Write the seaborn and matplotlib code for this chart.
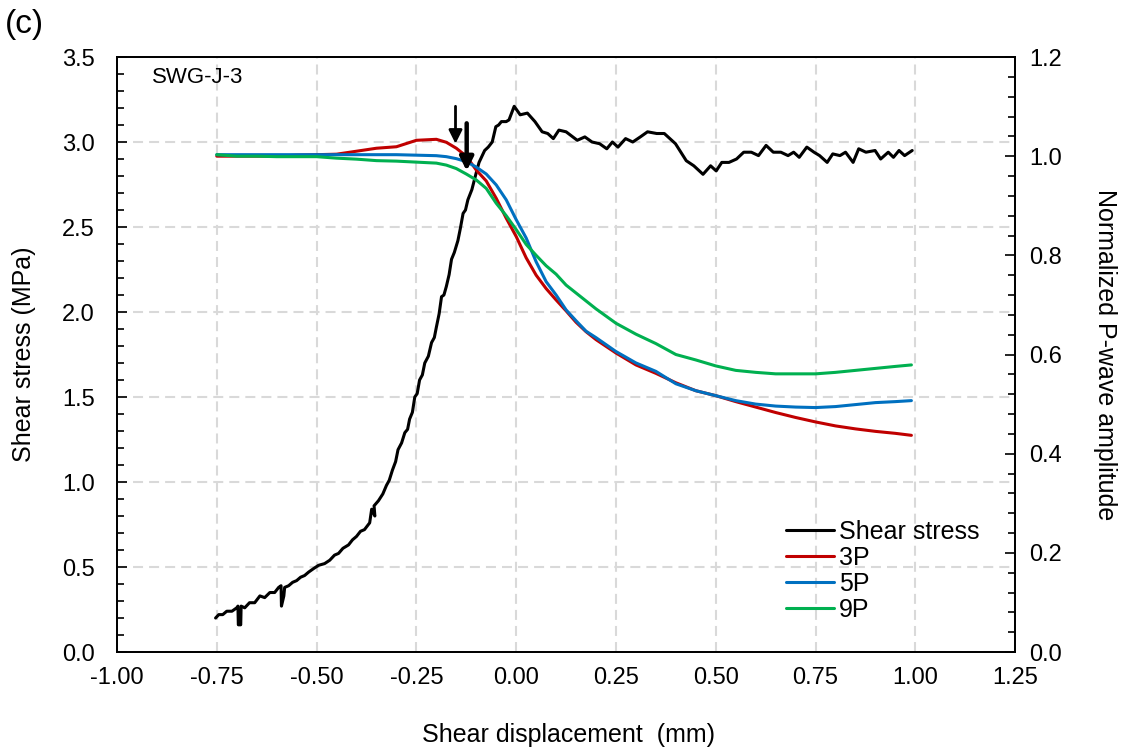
import matplotlib.pyplot as plt
import matplotlib.ticker as mticker
import seaborn as sns

# shear stress curve (left axis)
shear_disp = [
    -0.753, -0.745, -0.735, -0.725, -0.712, -0.700, -0.697, -0.696, -0.690, -0.689,
    -0.680, -0.668, -0.655, -0.642, -0.630, -0.617, -0.605, -0.595, -0.589, -0.588,
    -0.586, -0.582, -0.580, -0.570, -0.560, -0.550, -0.540, -0.530, -0.520, -0.508,
    -0.495, -0.480, -0.467, -0.455, -0.445, -0.434, -0.420, -0.410, -0.400, -0.390,
    -0.380, -0.367, -0.362, -0.354, -0.356, -0.345, -0.334, -0.325, -0.318, -0.310,
    -0.302, -0.296, -0.287, -0.279, -0.272, -0.267, -0.260, -0.254, -0.248, -0.242,
    -0.235, -0.229, -0.220, -0.212, -0.205, -0.200, -0.193, -0.187, -0.181, -0.175,
    -0.168, -0.162, -0.155, -0.146, -0.140, -0.133, -0.127, -0.121, -0.111, -0.100,
    -0.093, -0.085, -0.079, -0.070, -0.060, -0.051, -0.044, -0.037, -0.025, -0.018,
    -0.005, 0.010, 0.028, 0.047, 0.065, 0.079, 0.093, 0.107, 0.125, 0.153,
    0.172, 0.190, 0.209, 0.227, 0.241, 0.255, 0.274, 0.292, 0.311, 0.329,
    0.352, 0.371, 0.399, 0.426, 0.445, 0.468, 0.487, 0.501, 0.515, 0.533,
    0.552, 0.570, 0.589, 0.607, 0.626, 0.644, 0.663, 0.681, 0.695, 0.709,
    0.728, 0.746, 0.760, 0.779, 0.793, 0.811, 0.825, 0.844, 0.858, 0.876,
    0.899, 0.913, 0.932, 0.945, 0.959, 0.973, 0.992]
shear_stress = [
    0.20, 0.22, 0.22, 0.24, 0.24, 0.26, 0.27, 0.16, 0.16, 0.27,
    0.26, 0.29, 0.29, 0.33, 0.32, 0.35, 0.35, 0.38, 0.39, 0.27,
    0.29, 0.33, 0.38, 0.39, 0.41, 0.42, 0.44, 0.45, 0.47, 0.49,
    0.51, 0.52, 0.54, 0.57, 0.58, 0.61, 0.63, 0.66, 0.68, 0.71,
    0.72, 0.76, 0.84, 0.80, 0.86, 0.89, 0.93, 0.98, 1.01, 1.07,
    1.12, 1.19, 1.23, 1.29, 1.31, 1.37, 1.41, 1.50, 1.52, 1.60,
    1.63, 1.70, 1.74, 1.82, 1.85, 1.91, 1.99, 2.09, 2.10, 2.15,
    2.22, 2.31, 2.35, 2.42, 2.49, 2.58, 2.60, 2.66, 2.72, 2.82,
    2.88, 2.92, 2.95, 2.97, 3.00, 3.09, 3.10, 3.12, 3.12, 3.13,
    3.21, 3.16, 3.17, 3.12, 3.06, 3.05, 3.02, 3.07, 3.06, 3.01,
    3.03, 3.00, 2.99, 2.96, 3.00, 2.97, 3.02, 3.00, 3.03, 3.06,
    3.05, 3.05, 2.99, 2.89, 2.86, 2.81, 2.86, 2.83, 2.88, 2.88,
    2.90, 2.94, 2.94, 2.92, 2.98, 2.94, 2.94, 2.92, 2.94, 2.91,
    2.97, 2.94, 2.92, 2.88, 2.93, 2.92, 2.94, 2.88, 2.96, 2.94,
    2.95, 2.90, 2.94, 2.91, 2.95, 2.92, 2.95]

# normalized P-wave amplitude (right axis)
pw_disp = [-0.75, -0.70, -0.65, -0.60, -0.55, -0.50, -0.45, -0.40, -0.35, -0.30,
           -0.25, -0.20, -0.175, -0.15, -0.125, -0.10, -0.075, -0.05, -0.025, 0.0,
           0.025, 0.05, 0.075, 0.10, 0.125, 0.15, 0.175, 0.20, 0.25, 0.30,
           0.35, 0.40, 0.45, 0.50, 0.55, 0.60, 0.65, 0.70, 0.75, 0.80,
           0.85, 0.90, 0.95, 0.99]
amp_3p = [1.000, 1.000, 1.000, 1.000, 1.002, 1.003, 1.004, 1.010, 1.016, 1.019,
          1.032, 1.034, 1.028, 1.016, 1.000, 0.972, 0.950, 0.915, 0.875, 0.838,
          0.795, 0.760, 0.733, 0.710, 0.688, 0.665, 0.646, 0.630, 0.603, 0.579,
          0.562, 0.543, 0.527, 0.517, 0.505, 0.494, 0.483, 0.473, 0.464, 0.456,
          0.450, 0.445, 0.441, 0.437]
amp_5p = [1.003, 1.003, 1.003, 1.003, 1.003, 1.003, 1.003, 1.003, 1.003, 1.003,
          1.002, 1.001, 0.999, 0.995, 0.989, 0.978, 0.964, 0.942, 0.912, 0.872,
          0.835, 0.787, 0.747, 0.720, 0.690, 0.668, 0.647, 0.634, 0.606, 0.583,
          0.566, 0.541, 0.527, 0.517, 0.507, 0.500, 0.496, 0.494, 0.493, 0.495,
          0.499, 0.503, 0.505, 0.507]
amp_9p = [1.003, 1.000, 1.000, 0.999, 0.999, 0.999, 0.996, 0.994, 0.991, 0.990,
          0.988, 0.986, 0.982, 0.975, 0.964, 0.952, 0.935, 0.905, 0.880, 0.852,
          0.822, 0.800, 0.779, 0.762, 0.740, 0.724, 0.708, 0.692, 0.663, 0.641,
          0.622, 0.600, 0.589, 0.577, 0.568, 0.564, 0.561, 0.561, 0.561, 0.564,
          0.568, 0.572, 0.576, 0.579]

# arrows marking the onset points (in shear stress units)
arrow_x = [-0.152, -0.124]
arrow_top = [3.21, 3.11]
arrow_tip = [2.99, 2.83]
arrow_lw = [2.0, 3.2]

sns.set_style('white')
plt.rcParams['font.family'] = ['Liberation Sans', 'DejaVu Sans']
plt.rcParams['text.color'] = 'black'
plt.rcParams['axes.labelcolor'] = 'black'

fig, ax = plt.subplots(figsize=(11.28, 7.55), dpi=100)
fig.subplots_adjust(left=0.1037, right=0.900, top=0.9245, bottom=0.1364)

sns.lineplot(x=shear_disp, y=shear_stress, ax=ax, color='black', linewidth=2.2,
             sort=False, estimator=None, legend=False)
line_shear = ax.lines[-1]

ax2 = ax.twinx()
handles = [line_shear]
for vals, col in [(amp_3p, '#C00000'), (amp_5p, '#0070C0'), (amp_9p, '#00B050')]:
    sns.lineplot(x=pw_disp, y=vals, ax=ax2, color=col, linewidth=2.2,
                 sort=False, estimator=None, legend=False)
    handles.append(ax2.lines[-1])

for xa, yt, yb, lw in zip(arrow_x, arrow_top, arrow_tip, arrow_lw):
    ax2.annotate('', xy=(xa, yb), xytext=(xa, yt),
                 xycoords=ax.transData, textcoords=ax.transData,
                 arrowprops=dict(arrowstyle='-|>', color='black', lw=lw,
                                 mutation_scale=20, shrinkA=0, shrinkB=0))

ax.set_xlim(-1.0, 1.25)
ax.set_ylim(0, 3.5)
ax2.set_ylim(0, 1.2)

ax.xaxis.set_major_locator(mticker.MultipleLocator(0.25))
ax.xaxis.set_minor_locator(mticker.MultipleLocator(0.05))
ax.xaxis.set_major_formatter(mticker.FormatStrFormatter('%.2f'))
ax.yaxis.set_major_locator(mticker.MultipleLocator(0.5))
ax.yaxis.set_minor_locator(mticker.MultipleLocator(0.1))
ax.yaxis.set_major_formatter(mticker.FormatStrFormatter('%.1f'))
ax2.yaxis.set_major_locator(mticker.MultipleLocator(0.2))
ax2.yaxis.set_minor_locator(mticker.MultipleLocator(0.04))
ax2.yaxis.set_major_formatter(mticker.FormatStrFormatter('%.1f'))

ax.grid(True, which='major', color='#d9d9d9', linestyle=(0, (4.8, 2.9)), linewidth=1.5)
ax2.grid(False)

for a in (ax, ax2):
    a.tick_params(which='both', direction='in', width=1.2, colors='black', labelsize=17)
    a.tick_params(which='major', length=7)
    a.tick_params(which='minor', length=5)
    for sp in a.spines.values():
        sp.set_color('black')
        sp.set_linewidth(1.3)
ax.tick_params(axis='x', pad=11)
ax.tick_params(axis='y', pad=16)
ax2.tick_params(axis='y', pad=10)
ax.tick_params(top=False, right=False)
ax2.tick_params(left=False)

ax.set_xlabel('Shear displacement  (mm)', fontsize=18, va='center')
ax.xaxis.set_label_coords(0.503, -0.1395)
ax.set_ylabel('Shear stress (MPa)', fontsize=18, va='center')
ax.yaxis.set_label_coords(-0.1036, 0.5)
ax2.set_ylabel('Normalized P-wave amplitude', fontsize=18, rotation=270, va='center')
ax2.yaxis.set_label_coords(1.100, 0.5)

ax.text(0.039, 0.966, 'SWG-J-3', transform=ax.transAxes, fontsize=16,
        ha='left', va='center')
fig.text(24 / 1128, 1 - 25 / 755, '(c)', fontsize=24, ha='center', va='center')

ax2.legend(handles, ['Shear stress', '3P', '5P', '9P'], loc='upper left',
           bbox_to_anchor=(0.745, 0.222), frameon=False, fontsize=18,
           handlelength=1.9, handletextpad=0.2, labelspacing=0.08,
           borderpad=0, borderaxespad=0)

fig.savefig('out.png', dpi=100)
